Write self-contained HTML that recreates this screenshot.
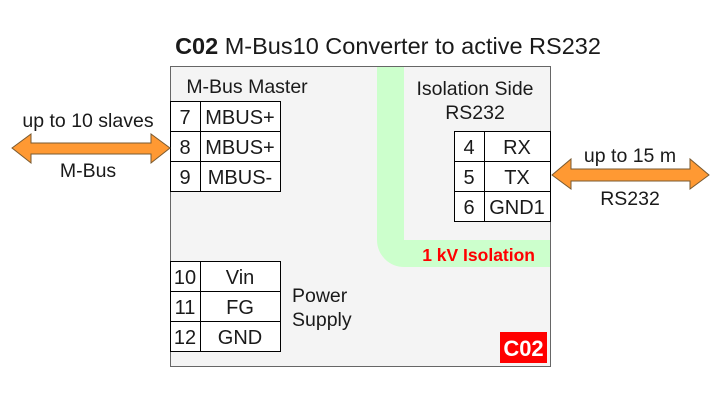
<!DOCTYPE html>
<html><head><meta charset="utf-8"><style>
body{margin:0;width:720px;height:412px;background:#fff;overflow:hidden}
svg{display:block}
text{font-family:"Liberation Sans",Arial,sans-serif;fill:#1a1a1a}
</style></head><body>
<svg width="720" height="412" viewBox="0 0 720 412">
<text x="388" y="54" font-size="23.5" text-anchor="middle"><tspan font-weight="bold">C02</tspan> M-Bus10 Converter to active RS232</text>
<rect x="170.5" y="66.5" width="380" height="300" fill="#f4f4f4" stroke="#666"/>
<path d="M377 67 H404 V240 H550 V267 H404 A27 27 0 0 1 377 240 Z" fill="#ccffcc"/>
<text x="247" y="93" font-size="19.5" text-anchor="middle">M-Bus Master</text>
<text x="475" y="95" font-size="19.5" text-anchor="middle">Isolation Side</text>
<text x="475" y="119" font-size="19.5" text-anchor="middle">RS232</text>
<text x="535" y="261" font-size="17.5" font-weight="bold" text-anchor="end" style="fill:#ff0000">1 kV Isolation</text>
<text x="292" y="302" font-size="19.5">Power</text>
<text x="292" y="326" font-size="19.5">Supply</text>
<rect x="500" y="332" width="47" height="31" fill="#ff0000"/>
<text x="523.5" y="356" font-size="22" font-weight="bold" text-anchor="middle" style="fill:#fff">C02</text>
<g fill="#fff" stroke="#000" stroke-width="1">
<rect x="170.5" y="101.5" width="30" height="30"/><rect x="200.5" y="101.5" width="80" height="30"/>
<rect x="170.5" y="131.5" width="30" height="30"/><rect x="200.5" y="131.5" width="80" height="30"/>
<rect x="170.5" y="161.5" width="30" height="30"/><rect x="200.5" y="161.5" width="80" height="30"/>
<rect x="170.5" y="261.5" width="30" height="30"/><rect x="200.5" y="261.5" width="80" height="30"/>
<rect x="170.5" y="291.5" width="30" height="30"/><rect x="200.5" y="291.5" width="80" height="30"/>
<rect x="170.5" y="321.5" width="30" height="30"/><rect x="200.5" y="321.5" width="80" height="30"/>
<rect x="454.5" y="131.5" width="30" height="30"/><rect x="484.5" y="131.5" width="66" height="30"/>
<rect x="454.5" y="161.5" width="30" height="30"/><rect x="484.5" y="161.5" width="66" height="30"/>
<rect x="454.5" y="191.5" width="30" height="30"/><rect x="484.5" y="191.5" width="66" height="30"/>
</g>
<g font-size="20" text-anchor="middle">
<text x="185" y="124">7</text><text x="240" y="124">MBUS+</text>
<text x="185" y="154">8</text><text x="240" y="154">MBUS+</text>
<text x="185" y="184">9</text><text x="240" y="184">MBUS-</text>
<text x="185" y="284">10</text><text x="240" y="284">Vin</text>
<text x="185" y="314">11</text><text x="240" y="314">FG</text>
<text x="185" y="344">12</text><text x="240" y="344">GND</text>
<text x="469" y="154">4</text><text x="517" y="154">RX</text>
<text x="469" y="184">5</text><text x="517" y="184">TX</text>
<text x="469" y="214">6</text><text x="517" y="214">GND1</text>
</g>
<path d="M12 148 L31 134 V143 H151 V134 L170 148 L151 163 V154 H31 V163 Z" fill="#ff9933" stroke="#7a5a30"/>
<path d="M552 175 L571 159 V169 H690 V159 L709 175 L690 189 V181 H571 V189 Z" fill="#ff9933" stroke="#7a5a30"/>
<text x="88" y="127" font-size="19.5" text-anchor="middle">up to 10 slaves</text>
<text x="88" y="177" font-size="19.5" text-anchor="middle">M-Bus</text>
<text x="630" y="162" font-size="19.5" text-anchor="middle">up to 15 m</text>
<text x="630" y="205" font-size="19.5" text-anchor="middle">RS232</text>
</svg>
</body></html>
